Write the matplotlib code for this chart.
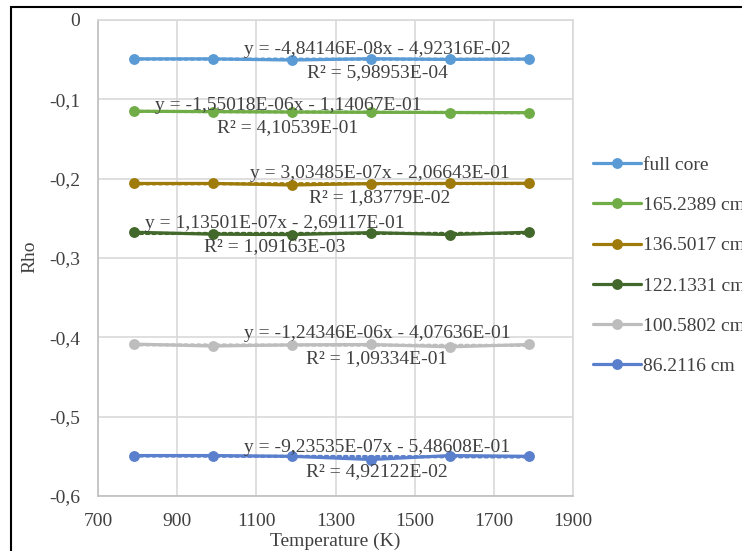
import numpy as np
import matplotlib
matplotlib.use("Agg")
import matplotlib.pyplot as plt
from matplotlib.patches import Rectangle

# data
temperature = [790, 990, 1190, 1390, 1590, 1790]
series_names = ["full core", "165.2389 cm", "136.5017 cm", "122.1331 cm", "100.5802 cm", "86.2116 cm"]
rho_full = [-0.0490, -0.0490, -0.0505, -0.0488, -0.0497, -0.0492]
rho_165 = [-0.1150, -0.1155, -0.1160, -0.1163, -0.1166, -0.1168]
rho_136 = [-0.2060, -0.2060, -0.2080, -0.2062, -0.2060, -0.2058]
rho_122 = [-0.2675, -0.2700, -0.2705, -0.2680, -0.2705, -0.2675]
rho_100 = [-0.4085, -0.4110, -0.4095, -0.4090, -0.4120, -0.4090]
rho_86 = [-0.5490, -0.5490, -0.5500, -0.5540, -0.5490, -0.5500]
equations = [
    ("y = -4,84146E-08x - 4,92316E-02", "R\u00b2 = 5,98953E-04"),
    ("y = -1,55018E-06x - 1,14067E-01", "R\u00b2 = 4,10539E-01"),
    ("y = 3,03485E-07x - 2,06643E-01", "R\u00b2 = 1,83779E-02"),
    ("y = 1,13501E-07x - 2,69117E-01", "R\u00b2 = 1,09163E-03"),
    ("y = -1,24346E-06x - 4,07636E-01", "R\u00b2 = 1,09334E-01"),
    ("y = -9,23535E-07x - 5,48608E-01", "R\u00b2 = 4,92122E-02"),
]
x_ticks = [700, 900, 1100, 1300, 1500, 1700, 1900]
y_ticks = [0, -0.1, -0.2, -0.3, -0.4, -0.5, -0.6]

colors = ["#5B9BD5", "#70AD47", "#9E7B0A", "#43682B", "#BDBDBD", "#5A7FCC"]
# equation label centres in pixels (x, y of first line, y of second line)
eq_pos = [(377, 49, 73), (288, 105, 128), (380, 173, 198),
          (275, 223, 247), (377, 333, 359), (377, 447, 472)]

plt.rcParams['font.family'] = ['Liberation Serif', 'DejaVu Sans']
W, H = 742, 551
fig = plt.figure(figsize=(W / 100, H / 100), dpi=100)
ax = fig.add_axes([98 / W, 1 - 496 / H, (573 - 98) / W, (496 - 20) / H])

all_series = [rho_full, rho_165, rho_136, rho_122, rho_100, rho_86]
for name, vals, c in zip(series_names, all_series, colors):
    ax.plot(temperature, vals, color=c, lw=2.3, marker='o', markersize=6.8,
            label=name, zorder=3, solid_capstyle='round')
    # linear trendline like the Excel one
    k, b = np.polyfit(temperature, vals, 1)
    xt = np.array([temperature[0], temperature[-1]])
    ax.plot(xt, k * xt + b, color=c, lw=2.3, linestyle=(0, (0.8, 1.2)),
            dash_capstyle='round', zorder=2)

ax.set_xlim(700, 1900)
ax.set_ylim(-0.6, 0)
ax.set_xticks(x_ticks)
ax.set_yticks(y_ticks)
ax.set_yticklabels(['0' if v == 0 else f"{v:.1f}".replace('.', ',') for v in y_ticks])
ax.tick_params(length=0, labelsize=14, labelcolor='#404040')
ax.tick_params(axis='y', pad=13)
ax.tick_params(axis='x', pad=12)
ax.grid(True, color='#D9D9D9', lw=1.2)
ax.set_axisbelow(True)
for s in ax.spines.values():
    s.set_color('#D9D9D9')
    s.set_linewidth(1.2)
ax.spines['left'].set_color('#BFBFBF')
ax.spines['bottom'].set_color('#BFBFBF')

ax.set_xlabel('Temperature (K)', fontsize=14, color='#404040', labelpad=2)
fig.text(30 / W, 1 - 257 / H, 'Rho', rotation=90, fontsize=14, color='#404040',
         ha='center', va='center')

for (eq, r2), (px, py1, py2) in zip(equations, eq_pos):
    fig.text(px / W, 1 - py1 / H, eq, fontsize=14, color='#404040', ha='center', va='center', zorder=5)
    fig.text(px / W, 1 - py2 / H, r2, fontsize=14, color='#404040', ha='center', va='center', zorder=5)

fig.legend(loc='upper left', bbox_to_anchor=(575 / W, 1 - 139 / H), frameon=False,
           fontsize=14, handlelength=2.5, handletextpad=0.1, labelspacing=1.16,
           labelcolor='#404040')

# outer chart frame (cropped at right and bottom)
fig.patches.append(Rectangle((11 / W, -0.1), 1.2, 1 - 7 / H + 0.1, transform=fig.transFigure,
                             fill=False, edgecolor='black', lw=1.5))

fig.savefig('out.png', dpi=100)
